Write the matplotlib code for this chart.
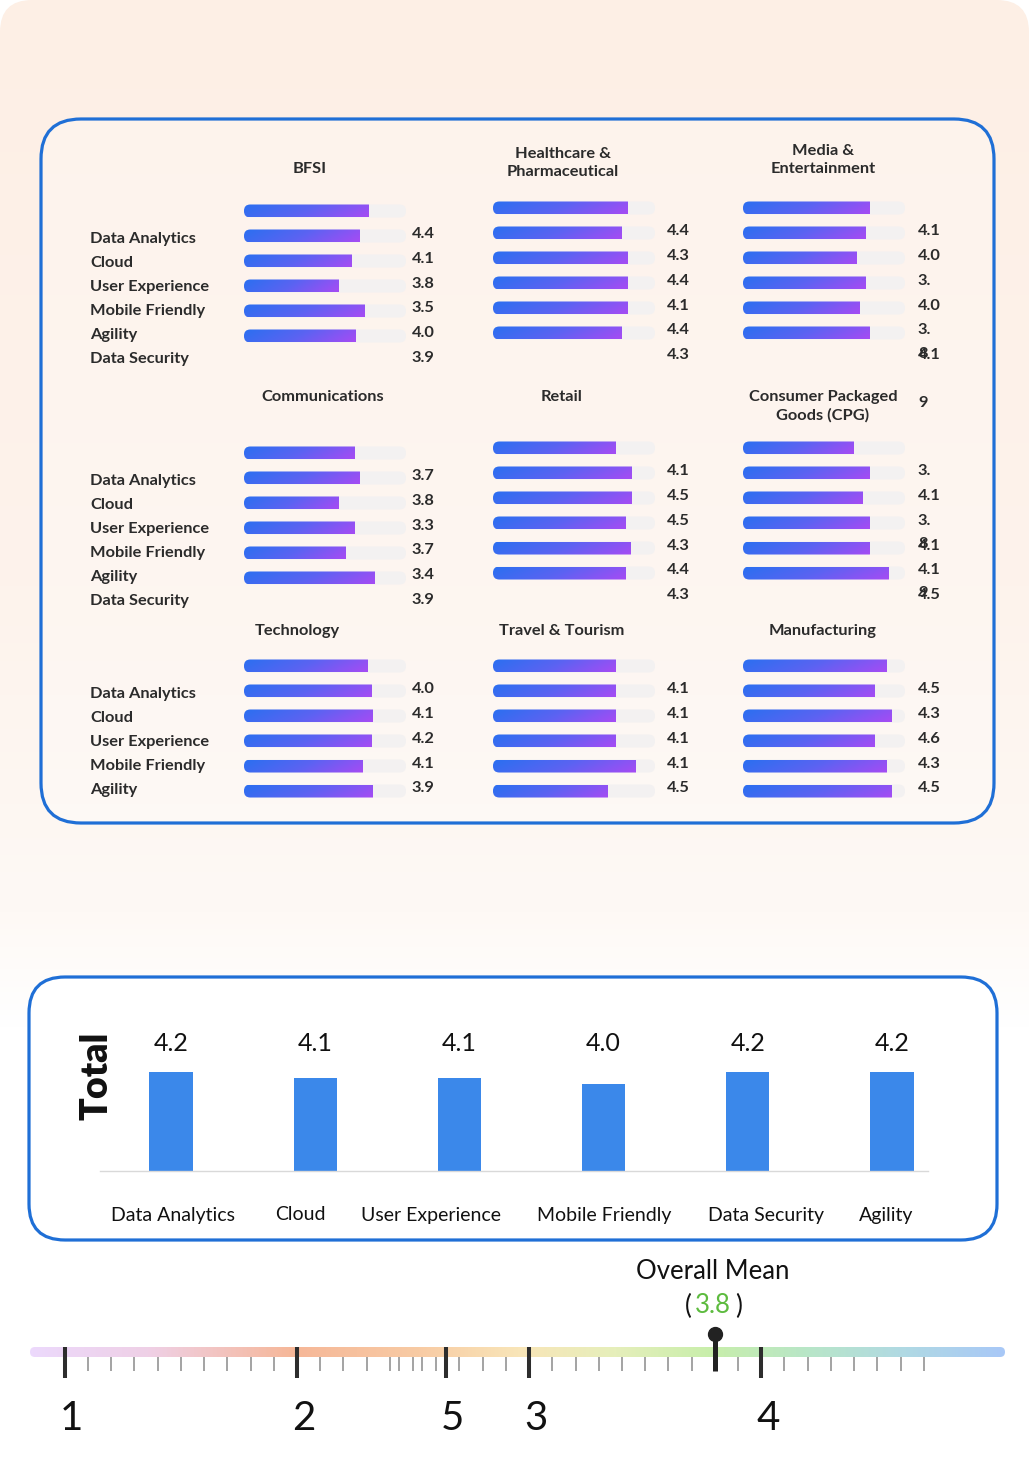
import numpy as np
import matplotlib
matplotlib.use("Agg")
import matplotlib.pyplot as plt
from matplotlib.patches import FancyBboxPatch
from matplotlib.colors import LinearSegmentedColormap

plt.rcParams['font.family'] = ['Lato', 'DejaVu Sans']

W, H = 1029, 1470

# ---------------- data ----------------
categories = ["Data Analytics", "Cloud", "User Experience", "Mobile Friendly", "Agility", "Data Security"]

industries = ["BFSI", "Healthcare &\nPharmaceutical", "Media &\nEntertainment",
              "Communications", "Retail", "Consumer Packaged\nGoods (CPG)",
              "Technology", "Travel & Tourism", "Manufacturing"]

# bar lengths as drawn (track = 5)
bfsi_bars = [3.83, 3.55, 3.33, 2.93, 3.73, 3.43]
health_bars = [4.14, 3.98, 4.14, 4.14, 4.14, 3.98]
media_bars = [3.89, 3.77, 3.49, 3.77, 3.61, 3.89]
comms_bars = [3.40, 3.55, 2.93, 3.40, 3.12, 4.04]
retail_bars = [3.77, 4.29, 4.29, 4.10, 4.23, 4.10]
cpg_bars = [3.40, 3.89, 3.70, 3.89, 3.89, 4.48]
tech_bars = [3.80, 3.92, 3.98, 3.92, 3.67, 3.98]
travel_bars = [3.77, 3.77, 3.77, 3.77, 4.41, 3.52]
manuf_bars = [4.44, 4.07, 4.57, 4.07, 4.44, 4.57]

# printed scores
bfsi_scores = ["4.4", "4.1", "3.8", "3.5", "4.0", "3.9"]
health_scores = ["4.4", "4.3", "4.4", "4.1", "4.4", "4.3"]
media_scores = ["4.1", "4.0", "3.", "4.0", "3.", "4.1"]
comms_scores = ["3.7", "3.8", "3.3", "3.7", "3.4", "3.9"]
retail_scores = ["4.1", "4.5", "4.5", "4.3", "4.4", "4.3"]
cpg_scores = ["3.", "4.1", "3.", "4.1", "4.1", "4.5"]
tech_scores = ["4.0", "4.1", "4.2", "4.1", "3.9"]
travel_scores = ["4.1", "4.1", "4.1", "4.1", "4.5"]
manuf_scores = ["4.5", "4.3", "4.6", "4.3", "4.5"]

# stray digits that spill over (panel, row, text)
overflow = [(2, 5.84, "8"), (5, 3.84, "8"), (5, 5.78, "9"), (5, -1.8, "9")]

total_cats = ["Data Analytics", "Cloud", "User Experience", "Mobile Friendly", "Data Security", "Agility"]
total_vals = [4.2, 4.1, 4.1, 4.0, 4.2, 4.2]

scale_ticks = [1, 2, 2.64, 3, 4]
scale_labels = ["1", "2", "5", "3", "4"]
scale_minor = [1.1, 1.2, 1.3, 1.4, 1.5, 1.6, 1.7, 1.8, 1.9,
               2.1, 2.2, 2.3, 2.4, 2.44, 2.5, 2.54, 2.6, 2.7, 2.8, 2.9,
               3.1, 3.2, 3.3, 3.4, 3.5, 3.6, 3.7, 3.9,
               4.1, 4.2, 4.3, 4.4, 4.5, 4.6, 4.7]
overall_mean = 3.8

all_bars = [bfsi_bars, health_bars, media_bars, comms_bars, retail_bars, cpg_bars,
            tech_bars, travel_bars, manuf_bars]
all_scores = [bfsi_scores, health_scores, media_scores, comms_scores, retail_scores, cpg_scores,
              tech_scores, travel_scores, manuf_scores]

# ---------------- layout ----------------
col_x = [244, 493, 743]
score_dx = [168, 174, 175]     # px from bar start to score column
row_y = [[211, 208, 208], [453, 448, 448], [666, 666, 666]]
title_off = [(66, -42), (70, -45), (80, -48), (79, -56), (69, -51), (80, -42),
             (53, -35), (69, -35), (80, -35)]
total_label_shift = [2, -15, -28, 1, 18, -6]   # px, category label offsets under bars
PXU = 162 / 5.0   # px per x unit in panels
ROW = 25.0        # px per row
TXT = "#2b2b2b"
BLUE_EDGE = "#1f6fd6"
FS = 11.8

fig = plt.figure(figsize=(W / 100, H / 100), dpi=100)


def px_axes(x, y, w, h):
    return fig.add_axes([x / W, 1 - (y + h) / H, w / W, h / H])


# background
bg = px_axes(0, 0, W, H)
bg.set_xlim(0, W)
bg.set_ylim(H, 0)
bg.axis("off")
bg_cmap = LinearSegmentedColormap.from_list(
    "bg", [(0, "#fdefe5"), (0.4, "#fdf3ec"), (0.62, "#fef9f5"), (0.7, "#ffffff"), (1, "#ffffff")])
card = FancyBboxPatch((0, 0), W, H + 60, boxstyle="round,pad=0,rounding_size=32",
                      fc="none", ec="none")
bg.add_patch(card)
im = bg.imshow(np.linspace(0, 1, 256)[:, None], cmap=bg_cmap, extent=(0, W, H, 0),
               aspect="auto", interpolation="bilinear")
im.set_clip_path(card)

bg.add_patch(FancyBboxPatch((41, 119), 953, 704, boxstyle="round,pad=0,rounding_size=40",
                            fc=(1, 1, 1, 0.25), ec=BLUE_EDGE, lw=2.3))
bg.add_patch(FancyBboxPatch((29, 977), 968, 263, boxstyle="round,pad=0,rounding_size=36",
                            fc="white", ec=BLUE_EDGE, lw=2.3))

# ---------------- industry panels ----------------
bar_cmap = LinearSegmentedColormap.from_list("bar", ["#2c6ff0", "#5b63f2", "#a44cf4"])
grad = 0.85 * np.linspace(0, 1, 64)[None, :] + 0.15 * np.linspace(0, 1, 8)[:, None]
asp = (1 / ROW) / (1 / PXU)
r = 6.3 / PXU
bh = 13 / ROW

for k in range(9):
    c, rr = k % 3, k // 3
    x0, y0 = col_x[c], row_y[rr][c]
    sx = score_dx[c] / PXU
    ax = px_axes(x0, y0 - ROW / 2, 162, ROW * 6)
    ax.set_facecolor("none")
    ax.axis("off")
    for i, v in enumerate(all_bars[k]):
        ax.add_patch(FancyBboxPatch((0, i - bh / 2), 5, bh,
                                    boxstyle=f"round,pad=0,rounding_size={r}",
                                    mutation_aspect=asp, fc="#f3f1f1", ec="none", zorder=1))
        clip = FancyBboxPatch((0, i - bh / 2), v + r, bh,
                              boxstyle=f"round,pad=0,rounding_size={r}",
                              mutation_aspect=asp, fc="none", ec="none")
        ax.add_patch(clip)
        g = ax.imshow(grad, cmap=bar_cmap, extent=(0, v, i + bh / 2, i - bh / 2),
                      aspect="auto", interpolation="bilinear", zorder=2)
        g.set_clip_path(clip)
    for i, s in enumerate(all_scores[k]):
        ax.text(sx, 0.93 + 0.99 * i, s, ha="left", va="center", fontsize=FS,
                fontweight="bold", color=TXT)
    if c == 0:
        n = len(all_scores[k])
        for i, cat in enumerate(categories[:n]):
            ax.text((90 - x0) / PXU, 1.12 + 0.96 * i, cat, ha="left", va="center",
                    fontsize=FS, fontweight="bold", color=TXT)
    tx, ty = title_off[k]
    ax.text(tx / PXU, ty / ROW, industries[k], ha="center", va="center",
            fontsize=FS, fontweight="bold", color=TXT, linespacing=1.35)
    for p, yrow, s in overflow:
        if p == k:
            ax.text(sx, yrow, s, ha="left", va="center", fontsize=FS,
                    fontweight="bold", color=TXT)
    ax.set_xlim(0, 5)
    ax.set_ylim(5.5, -0.5)

# ---------------- total bar chart ----------------
tax = px_axes(100, 1000, 828, 171)
tax.set_facecolor("none")
xpos = np.arange(len(total_vals))
tax.bar(xpos, total_vals, width=0.3, color="#3b88ea")
for i, v in enumerate(total_vals):
    tax.text(i, 4.68, f"{v:.1f}", ha="center", va="center", fontsize=18, color="#111111")
tax.set_xlim(-0.492, 5.25)
tax.set_ylim(2.55, 2.55 + 171 / 60)
for s in ["top", "left", "right"]:
    tax.spines[s].set_visible(False)
tax.spines["bottom"].set_color("#d9d9d9")
tax.spines["bottom"].set_linewidth(1)
tax.set_yticks([])
tax.set_xticks([])
for i, (cat, dx) in enumerate(zip(total_cats, total_label_shift)):
    tax.text(i + dx / 144.2, 2.55 - 44 / 60, cat, ha="center", va="center",
             fontsize=14, color="#111111")
bg.text(97, 1076, "Total", rotation=90, fontsize=27, fontweight="heavy",
        ha="center", va="center", color="#111111")

# ---------------- overall mean scale ----------------
sax = px_axes(30, 1320, 975, 130)
sax.set_facecolor("none")
sax.axis("off")
sax.set_xlim(0.85, 5.05)
sax.set_ylim(1450, 1320)
scale_cmap = LinearSegmentedColormap.from_list("scale", [
    (0.0, "#ecd9fc"), (0.12, "#efd0e6"), (0.27, "#f6b798"), (0.40, "#f8cba4"),
    (0.50, "#f9e5b8"), (0.60, "#e6efbb"), (0.70, "#c8eeab"), (0.80, "#b8e6c8"),
    (0.90, "#b0d9e4"), (1.0, "#a8c8f7")])
sclip = FancyBboxPatch((0.85, 1347), 4.2, 10, boxstyle=f"round,pad=0,rounding_size={5 / 232}",
                       mutation_aspect=232, fc="none", ec="none")
sax.add_patch(sclip)
sg = sax.imshow(np.linspace(0, 1, 512)[None, :], cmap=scale_cmap, extent=(0.85, 5.05, 1357, 1347),
                aspect="auto", interpolation="bilinear", zorder=1)
sg.set_clip_path(sclip)
sax.vlines(scale_minor, 1357, 1371, color="#a3a3a3", lw=1.4, zorder=2)
sax.vlines(scale_ticks, 1347, 1378, color="#2d2d2d", lw=2.9, zorder=3)
for t, lab in zip(scale_ticks, scale_labels):
    sax.text(t + 7 / 232, 1419, lab, ha="center", va="center", fontsize=29, color="#111111")
sax.vlines([overall_mean], 1334, 1371, color="#222222", lw=3.6, zorder=4)
sax.plot([overall_mean], [1334], "o", ms=10, color="#222222", zorder=5, clip_on=False)
sax.text(overall_mean - 2 / 232, 1272, "Overall Mean", ha="center", va="center",
         fontsize=18.5, color="#111111")
sax.text(overall_mean - 2 / 232, 1306, f"{overall_mean:.1f}", ha="center", va="center",
         fontsize=18.5, color="#5dbb3f")
sax.text(overall_mean - 26 / 232, 1306, "(", ha="center", va="center", fontsize=18.5, color="#111111")
sax.text(overall_mean + 24 / 232, 1306, ")", ha="center", va="center", fontsize=18.5, color="#111111")

fig.savefig("out.png", dpi=100)
